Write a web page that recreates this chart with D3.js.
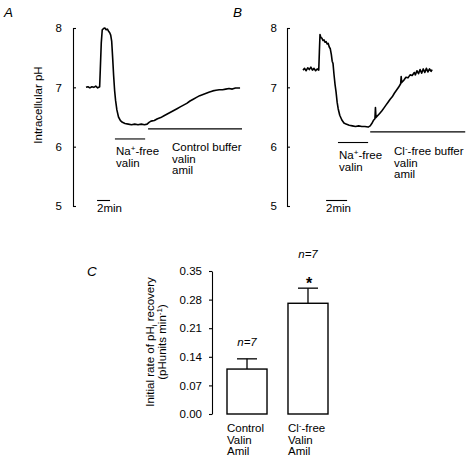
<!DOCTYPE html>
<html>
<head>
<meta charset="utf-8">
<script src="https://cdn.jsdelivr.net/npm/d3@7/dist/d3.min.js"></script>
<style>
  html, body { margin: 0; padding: 0; background: #fff; }
  svg { display: block; }
  text { font-family: Arial, "Liberation Sans", sans-serif; fill: #000; }
</style>
</head>
<body>
<script>
// ---------- DATA ----------
// Panel A trace: [time (min), intracellular pH]
const traceA = [[0,7.00],[0.3,7.01],[0.6,6.99],[0.9,7.01],[1.2,7.00],[1.5,7.02],[1.8,6.99],[2.1,7.01],[2.2,7.3],[2.35,7.75],[2.5,7.97],[2.7,7.99],[2.9,8.0],[3.1,7.97],[3.3,7.98],[3.5,7.94],[3.65,7.92],[3.8,7.88],[3.95,7.78],[4.1,7.5],[4.25,7.2],[4.4,6.95],[4.55,6.78],[4.75,6.62],[5.0,6.5],[5.3,6.44],[5.6,6.41],[6.0,6.39],[6.5,6.38],[7.0,6.37],[7.5,6.38],[8.0,6.37],[8.5,6.38],[9.0,6.37],[9.4,6.38],[9.7,6.41],[10.0,6.43],[10.5,6.44],[11.0,6.47],[11.5,6.49],[12.0,6.52],[12.5,6.55],[13.0,6.58],[13.5,6.61],[14.0,6.64],[14.5,6.67],[15.0,6.70],[15.5,6.73],[16.0,6.77],[16.5,6.80],[17.0,6.83],[17.5,6.86],[18.0,6.88],[18.5,6.90],[19.0,6.92],[19.5,6.94],[20.0,6.95],[20.5,6.96],[21.0,6.96],[21.5,6.97],[22.0,6.98],[22.5,6.97],[23.0,6.99],[23.7,6.99]];
// Panel B trace: [time (min), intracellular pH]
const traceB = [[0,7.29],[0.15,7.32],[0.3,7.28],[0.45,7.33],[0.6,7.30],[0.75,7.34],[0.9,7.29],[1.05,7.32],[1.2,7.28],[1.35,7.31],[1.5,7.29],[1.56,7.60],[1.62,7.89],[1.7,7.84],[1.8,7.83],[1.9,7.79],[2.0,7.80],[2.1,7.76],[2.2,7.77],[2.3,7.73],[2.4,7.74],[2.5,7.68],[2.6,7.65],[2.7,7.55],[2.78,7.44],[2.86,7.40],[2.95,7.22],[3.05,7.05],[3.15,6.92],[3.25,6.75],[3.35,6.64],[3.5,6.53],[3.7,6.45],[3.9,6.40],[4.1,6.38],[4.4,6.36],[4.7,6.35],[5.0,6.34],[5.3,6.35],[5.6,6.34],[5.9,6.34],[6.2,6.33],[6.4,6.35],[6.55,6.39],[6.7,6.44],[6.85,6.47],[6.9,6.66],[6.95,6.49],[7.1,6.52],[7.3,6.56],[7.5,6.60],[7.7,6.65],[7.9,6.70],[8.1,6.75],[8.3,6.80],[8.5,6.84],[8.7,6.90],[8.9,6.95],[9.1,7.00],[9.3,7.06],[9.35,7.18],[9.4,7.08],[9.6,7.12],[9.8,7.17],[10.0,7.16],[10.2,7.21],[10.4,7.20],[10.6,7.25],[10.7,7.21],[10.85,7.28],[11.0,7.23],[11.15,7.30],[11.3,7.24],[11.45,7.31],[11.6,7.25],[11.75,7.32],[11.9,7.26],[12.05,7.31],[12.2,7.27],[12.3,7.30]];
const phTicks = [5, 6, 7, 8];
// Solution-change bars: [start min, end min, pH level]
const barsA = [[4.45, 9.1, 6.13], [9.55, 24.0, 6.30]];
const barsB = [[3.33, 6.2, 6.07], [6.4, 15.45, 6.25]];
const scaleBarA = [1.7, 3.7];
const scaleBarB = [2.2, 4.2];
// Panel C
const categories = ["Control", "Cl-free"];
const rates = [0.110, 0.271];
const sems = [0.025, 0.037];
const nLabels = ["n=7", "n=7"];
const rateTicks = [0, 0.07, 0.14, 0.21, 0.28, 0.35];

// ---------- CHART ----------
const W = 468, H = 459;
const svg = d3.select("body").append("svg").attr("width", W).attr("height", H);
svg.append("rect").attr("width", W).attr("height", H).attr("fill", "#fff");
const FS = 11.5;

function phPanel(trace, bars, sb, axisX, x0, pxPerMin, pad) {
  const y = d3.scaleLinear().domain([5, 8]).range([206, 28]);
  const x = d3.scaleLinear().domain([0, 1]).range([x0, x0 + pxPerMin]);
  const ax = svg.append("g").attr("transform", `translate(${axisX},0)`)
    .call(d3.axisLeft(y).tickValues(phTicks).tickFormat(d3.format("d")).tickSizeInner(-3).tickSizeOuter(-3).tickPadding(pad));
  ax.selectAll("path,line").attr("stroke", "#000").attr("stroke-width", 1.1);
  ax.selectAll("text").attr("font-size", FS).style("font-family", "Arial, 'Liberation Sans', sans-serif").attr("fill", "#000");
  svg.append("path").datum(trace)
    .attr("d", d3.line().x(d => x(d[0])).y(d => y(d[1])))
    .attr("fill", "none").attr("stroke", "#000").attr("stroke-width", 1.6).attr("stroke-linejoin", "round");
  svg.selectAll(null).data(bars).enter().append("line")
    .attr("x1", d => x(d[0])).attr("x2", d => x(d[1]))
    .attr("y1", d => y(d[2])).attr("y2", d => y(d[2]))
    .attr("stroke", "#000").attr("stroke-width", 1.1);
  svg.append("line").attr("x1", x(sb[0])).attr("x2", x(sb[1])).attr("y1", 200.5).attr("y2", 200.5)
    .attr("stroke", "#000").attr("stroke-width", 1.1);
  svg.append("text").attr("x", x(sb[0])).attr("y", 212).attr("font-size", FS).text("2min");
  return {x, y};
}

const A = phPanel(traceA, barsA, scaleBarA, 73, 86, 6.5, 11);
const B = phPanel(traceB, barsB, scaleBarB, 287, 303, 10.5, 10);

function multiText(x, y0, lines, dy) {
  const t = svg.append("text").attr("x", x).attr("y", y0).attr("font-size", FS);
  lines.forEach((ln, i) => {
    const ts = t.append("tspan").attr("x", x).attr("y", y0 + i * dy);
    ln.forEach(part => {
      const s = ts.append("tspan").text(part.t);
      if (part.sup) s.attr("font-size", 8).attr("dy", -4);
      if (part.after) s.attr("dy", 4);
    });
  });
}
// Panel A annotations
multiText(116, 155, [[{t:"Na"},{t:"+",sup:true},{t:"-free",after:true}],[{t:"valin"}]], 11.5);
multiText(172, 151, [[{t:"Control buffer"}],[{t:"valin"}],[{t:"amil"}]], 11.5);
// Panel B annotations
multiText(339, 159, [[{t:"Na"},{t:"+",sup:true},{t:"-free",after:true}],[{t:"valin"}]], 11.5);
multiText(394, 155, [[{t:"Cl"},{t:"-",sup:true},{t:"-free buffer",after:true}],[{t:"valin"}],[{t:"amil"}]], 11.5);

// y label A
svg.append("text").attr("transform", "translate(42,105) rotate(-90)").attr("text-anchor", "middle")
  .attr("font-size", FS).text("Intracellular pH");

// panel letters
const letter = (t, x, y) => svg.append("text").attr("x", x).attr("y", y).attr("font-size", 13.5)
  .attr("font-style", "italic").text(t);
letter("A", 4, 16.5);
letter("B", 233, 16.5);
letter("C", 87, 276);

// ---------- Panel C ----------
const yc = d3.scaleLinear().domain([0, 0.35]).range([414, 271]);
const xc = d3.scaleBand().domain(categories).range([212, 343]).paddingInner(0.344).paddingOuter(0.246);
const axc = svg.append("g").attr("transform", "translate(212,0)")
  .call(d3.axisLeft(yc).tickValues(rateTicks).tickFormat(d3.format(".2f")).tickSizeInner(3).tickSizeOuter(0).tickPadding(7));
axc.selectAll("path,line").attr("stroke", "#000").attr("stroke-width", 1.1);
axc.selectAll("text").attr("font-size", FS).style("font-family", "Arial, 'Liberation Sans', sans-serif").attr("fill", "#000");

const gb = svg.append("g");
categories.forEach((c, i) => {
  const bx = xc(c), bw = xc.bandwidth(), cx = bx + bw / 2;
  gb.append("line").attr("x1", cx).attr("x2", cx).attr("y1", yc(rates[i])).attr("y2", yc(rates[i] + sems[i]))
    .attr("stroke", "#000").attr("stroke-width", 1.3);
  gb.append("line").attr("x1", cx - 10).attr("x2", cx + 10).attr("y1", yc(rates[i] + sems[i])).attr("y2", yc(rates[i] + sems[i]))
    .attr("stroke", "#000").attr("stroke-width", 1.3);
  gb.append("rect").attr("x", bx).attr("y", yc(rates[i])).attr("width", bw).attr("height", yc(0) - yc(rates[i]))
    .attr("fill", "#fff").attr("stroke", "#000").attr("stroke-width", 1.4);
});
// n labels
svg.append("text").attr("x", xc("Control") + xc.bandwidth()/2).attr("y", 346).attr("text-anchor", "middle")
  .attr("font-size", FS).attr("font-style", "italic").text(nLabels[0]);
svg.append("text").attr("x", xc("Cl-free") + xc.bandwidth()/2).attr("y", 258).attr("text-anchor", "middle")
  .attr("font-size", FS).attr("font-style", "italic").text(nLabels[1]);
svg.append("text").attr("x", xc("Cl-free") + xc.bandwidth()/2 + 1).attr("y", 289).attr("text-anchor", "middle")
  .attr("font-size", 16).attr("font-weight", "bold").text("*");
// category labels
multiText(xc("Control"), 432, [[{t:"Control"}],[{t:"Valin"}],[{t:"Amil"}]], 11.5);
multiText(xc("Cl-free"), 432, [[{t:"Cl"},{t:"-",sup:true},{t:"-free",after:true}],[{t:"Valin"}],[{t:"Amil"}]], 11.5);

// y label C
const yl = svg.append("text").attr("transform", "translate(154,342) rotate(-90)").attr("text-anchor", "middle").attr("font-size", FS);
yl.append("tspan").text("Initial rate of pH");
yl.append("tspan").text("i").attr("font-size", 8).attr("dy", 3);
yl.append("tspan").text(" recovery").attr("dy", -3);
const yl2 = svg.append("text").attr("transform", "translate(166,342) rotate(-90)").attr("text-anchor", "middle").attr("font-size", FS);
yl2.append("tspan").text("(pHunits min");
yl2.append("tspan").text("-1").attr("font-size", 8).attr("dy", -4);
yl2.append("tspan").text(")").attr("dy", 4);
</script>
</body>
</html>
